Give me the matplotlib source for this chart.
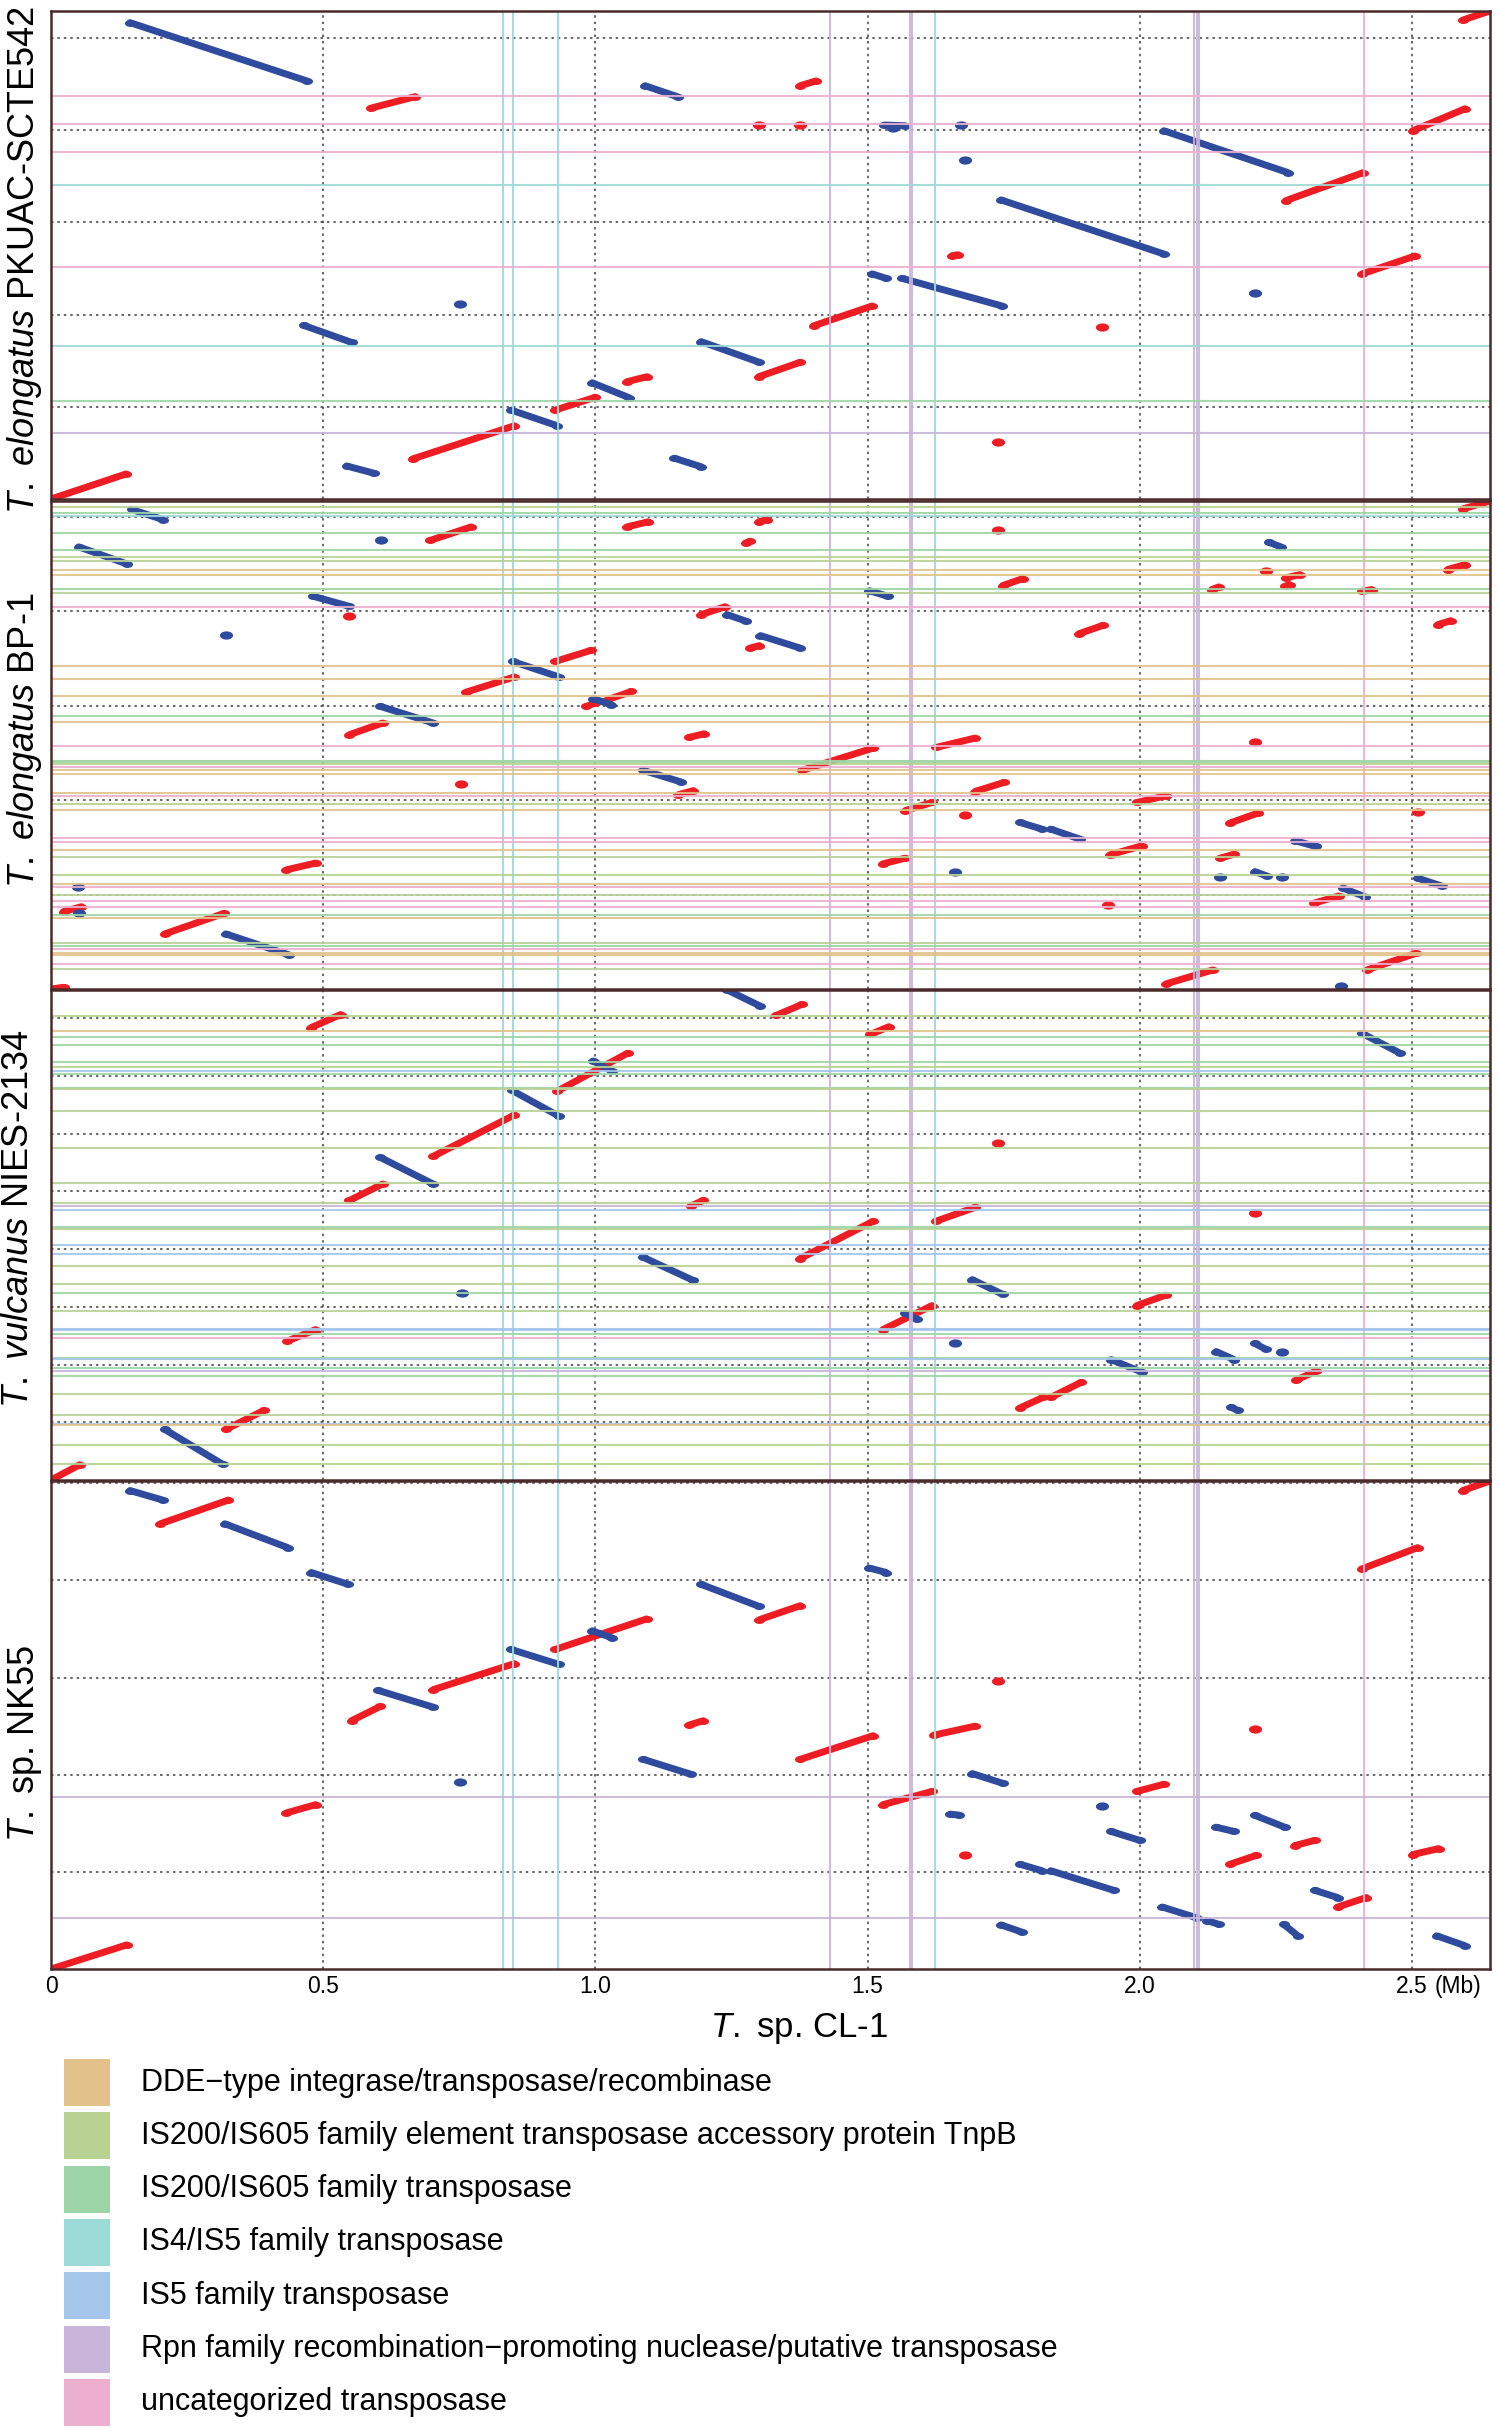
import matplotlib.pyplot as plt
import matplotlib.patches as mpatches
from matplotlib.path import Path
from matplotlib.transforms import Affine2D
import numpy as np

plt.rcParams['font.family'] = ['Liberation Sans', 'DejaVu Sans']
plt.rcParams['mathtext.fontset'] = 'custom'
plt.rcParams['mathtext.rm'] = 'Liberation Sans'
plt.rcParams['mathtext.it'] = 'Liberation Sans:italic'

# transposase categories (legend order)
CATEGORIES = [
    "DDE\u2212type integrase/transposase/recombinase",
    "IS200/IS605 family element transposase accessory protein TnpB",
    "IS200/IS605 family transposase",
    "IS4/IS5 family transposase",
    "IS5 family transposase",
    "Rpn family recombination\u2212promoting nuclease/putative transposase",
    "uncategorized transposase",
]
CAT_COLORS = ["#E2C28A", "#B8D294", "#9ED5A6", "#9CDAD8", "#A4C6EA", "#C9B5DA", "#ECAFD0"]
FWD_COLOR = "#EE1D23"
REV_COLOR = "#2F4B9D"

# reference genome T. sp. CL-1 (x axis, Mb)
X_LEN = 2.643
X_TICKS = [0, 0.5, 1.0, 1.5, 2.0, 2.5]
X_TICK_LABELS = ["0", "0.5", "1.0", "1.5", "2.0", "2.5"]

# transposases on CL-1: position (Mb), category index
V_LINES = [(0.831, 3), (0.848, 3), (0.931, 3), (1.430, 5), (1.578, 5), (1.582, 5),
           (1.624, 3), (2.100, 5), (2.104, 5), (2.108, 5), (2.412, 6)]

# ---- panel 1: T. elongatus PKUAC-SCTE542
P1_LABEL = r"$\mathit{T.\ elongatus}$ PKUAC-SCTE542"
P1_LEN, P1_STEP = 2.645, 0.5
P1_HLINES = [(2.183, 6), (2.034, 6), (1.882, 6), (1.704, 3), (1.259, 6), (0.831, 3),
             (0.533, 2), (0.359, 5)]
P1_FWD = [(0.000, 0.138, 0.000, 0.136), (0.587, 0.669, 2.118, 2.181), (0.664, 0.851, 0.217, 0.397),
          (0.926, 0.999, 0.482, 0.551), (1.058, 1.095, 0.636, 0.663), (1.300, 1.376, 0.663, 0.741),
          (1.376, 1.405, 2.240, 2.266), (1.401, 1.508, 0.939, 1.046), (1.655, 1.666, 1.319, 1.324),
          (2.268, 2.410, 1.617, 1.769), (2.408, 2.505, 1.220, 1.317), (2.501, 2.597, 1.996, 2.115),
          (2.593, 2.643, 2.596, 2.645)]
P1_FWD_DOTS = [(1.300, 2.027), (1.376, 2.027), (1.930, 0.934), (1.739, 0.307)]
P1_REV = [(0.145, 0.470, 2.582, 2.266), (1.091, 1.152, 2.240, 2.179), (0.464, 0.552, 0.941, 0.849),
          (0.845, 0.930, 0.482, 0.397), (0.994, 1.062, 0.630, 0.549), (1.194, 1.301, 0.853, 0.741),
          (1.145, 1.194, 0.221, 0.175), (0.543, 0.594, 0.179, 0.139), (1.530, 1.569, 2.027, 2.023),
          (1.745, 2.044, 1.621, 1.328), (1.508, 1.534, 1.220, 1.196), (1.563, 1.747, 1.196, 1.046),
          (2.044, 2.272, 1.996, 1.769)]
P1_REV_DOTS = [(0.752, 1.055), (1.672, 2.027), (1.678, 1.837), (2.211, 1.118), (1.547, 2.009)]

# ---- panel 2: T. elongatus BP-1
P2_LABEL = r"$\mathit{T.\ elongatus}$ BP-1"
P2_LEN, P2_STEP = 2.585, 0.5
P2_HLINES = [(2.554, 1), (2.519, 2), (2.504, 3), (2.416, 2), (2.324, 2), (2.287, 1), (2.269, 1),
             (2.222, 0), (2.193, 0), (2.119, 2), (2.096, 1), (2.024, 6), (1.713, 0), (1.642, 0),
             (1.552, 0), (1.444, 2), (1.412, 0), (1.288, 6), (1.207, 2), (1.200, 2), (1.193, 1),
             (1.176, 6), (1.158, 0), (1.140, 0), (1.039, 0), (1.022, 6), (0.981, 1), (0.949, 0),
             (0.799, 6), (0.779, 6), (0.737, 0), (0.701, 1), (0.606, 1), (0.555, 0), (0.539, 6),
             (0.500, 1), (0.465, 6), (0.433, 6), (0.394, 2), (0.376, 0), (0.245, 1), (0.228, 2),
             (0.212, 6), (0.192, 0), (0.179, 0), (0.131, 6), (0.104, 1)]
P2_FWD = [(0.697, 0.772, 2.377, 2.448), (1.058, 1.097, 2.448, 2.475), (1.276, 1.284, 2.363, 2.372),
          (1.300, 1.315, 2.475, 2.487), (1.194, 1.238, 1.983, 2.025), (0.926, 0.992, 1.735, 1.794),
          (0.763, 0.851, 1.573, 1.653), (0.983, 1.000, 1.497, 1.515), (1.022, 1.066, 1.532, 1.576),
          (0.548, 0.609, 1.347, 1.409), (1.172, 1.200, 1.333, 1.352), (1.152, 1.180, 1.029, 1.051),
          (0.432, 0.486, 0.631, 0.667), (0.023, 0.056, 0.410, 0.436), (0.209, 0.318, 0.292, 0.401),
          (0.000, 0.023, 0.000, 0.009), (2.593, 2.643, 2.543, 2.585), (1.748, 1.785, 2.137, 2.174),
          (1.284, 1.301, 1.806, 1.819), (1.888, 1.932, 1.882, 1.926), (2.547, 2.571, 1.930, 1.951),
          (2.132, 2.145, 2.116, 2.130), (2.266, 2.275, 2.133, 2.142), (2.268, 2.294, 2.178, 2.195),
          (2.408, 2.426, 2.107, 2.116), (2.565, 2.597, 2.222, 2.248), (1.379, 1.510, 1.158, 1.276),
          (1.626, 1.697, 1.280, 1.329), (1.697, 1.750, 1.046, 1.094), (1.569, 1.618, 0.945, 0.988),
          (1.994, 2.047, 0.988, 1.023), (2.165, 2.217, 0.879, 0.932), (1.528, 1.569, 0.663, 0.693),
          (1.945, 2.003, 0.711, 0.758), (2.147, 2.173, 0.693, 0.714), (2.319, 2.365, 0.454, 0.493),
          (2.417, 2.507, 0.101, 0.189), (2.048, 2.134, 0.027, 0.101)]
P2_FWD_DOTS = [(0.548, 1.978), (0.753, 1.087), (1.739, 2.432), (2.231, 2.213), (1.678, 0.923),
               (2.510, 0.935), (2.211, 1.308), (1.941, 0.445)]
P2_REV = [(0.148, 0.205, 2.540, 2.487), (0.051, 0.139, 2.342, 2.252), (0.482, 0.548, 2.080, 2.027),
          (0.848, 0.933, 1.735, 1.653), (0.605, 0.702, 1.497, 1.409), (0.996, 1.029, 1.538, 1.506),
          (1.088, 1.158, 1.158, 1.096), (0.321, 0.438, 0.292, 0.180), (1.242, 1.277, 1.983, 1.948),
          (1.303, 1.376, 1.872, 1.806), (2.237, 2.259, 2.366, 2.342), (1.503, 1.537, 2.110, 2.080),
          (1.780, 1.820, 0.882, 0.847), (1.836, 1.890, 0.847, 0.794), (2.284, 2.323, 0.786, 0.755),
          (2.211, 2.233, 0.622, 0.599), (2.510, 2.554, 0.587, 0.546), (2.373, 2.413, 0.534, 0.489)]
P2_REV_DOTS = [(0.607, 2.377), (0.321, 1.873), (0.050, 0.539), (0.051, 0.405), (1.660, 0.622),
               (2.147, 0.592), (2.261, 0.595), (2.369, 0.016)]

# ---- panel 3: T. vulcanus NIES-2134
P3_LABEL = r"$\mathit{T.\ vulcanus}$ NIES-2134"
P3_LEN, P3_STEP = 1.697, 0.2
P3_HLINES = [(1.607, 1), (1.554, 0), (1.533, 2), (1.508, 2), (1.449, 2), (1.431, 1), (1.418, 4),
             (1.405, 2), (1.359, 2), (1.353, 1), (1.279, 1), (1.151, 1), (1.028, 1), (0.961, 1),
             (0.949, 5), (0.935, 4), (0.877, 2), (0.870, 1), (0.813, 4), (0.782, 4), (0.742, 1),
             (0.678, 1), (0.649, 2), (0.586, 1), (0.524, 4), (0.519, 4), (0.505, 2), (0.493, 6),
             (0.424, 2), (0.418, 4), (0.389, 2), (0.376, 5), (0.361, 2), (0.297, 1), (0.224, 1),
             (0.193, 4), (0.191, 0), (0.121, 1), (0.055, 1)]
P3_FWD = [(0.478, 0.532, 1.567, 1.612), (0.930, 1.059, 1.347, 1.478), (0.702, 0.851, 1.121, 1.264),
          (0.548, 0.609, 0.968, 1.025), (1.176, 1.198, 0.950, 0.968), (0.434, 0.486, 0.481, 0.521),
          (0.321, 0.391, 0.175, 0.241), (0.000, 0.053, 0.000, 0.053), (1.332, 1.379, 1.609, 1.647),
          (1.505, 1.539, 1.543, 1.570), (1.376, 1.510, 0.767, 0.896), (1.625, 1.697, 0.896, 0.944),
          (1.528, 1.618, 0.521, 0.604), (1.994, 2.047, 0.604, 0.640), (1.780, 1.822, 0.250, 0.286),
          (1.836, 1.892, 0.286, 0.338), (2.286, 2.323, 0.345, 0.377)]
P3_FWD_DOTS = [(1.739, 1.167), (2.211, 0.926)]
P3_REV = [(0.847, 0.933, 1.349, 1.260), (0.996, 1.031, 1.451, 1.415), (0.605, 0.702, 1.117, 1.025),
          (1.088, 1.180, 0.771, 0.691), (0.209, 0.315, 0.175, 0.055), (1.242, 1.303, 1.697, 1.641),
          (2.408, 2.478, 1.547, 1.478), (1.692, 1.748, 0.694, 0.643), (1.569, 1.591, 0.577, 0.556),
          (1.947, 2.003, 0.417, 0.374), (2.140, 2.173, 0.445, 0.417), (2.211, 2.231, 0.473, 0.453),
          (2.167, 2.180, 0.252, 0.241)]
P3_REV_DOTS = [(0.754, 0.649), (1.660, 0.473), (2.261, 0.445)]

# ---- panel 4: T. sp. NK55
P4_LABEL = r"$\mathit{T.}$ sp. NK55"
P4_LEN, P4_STEP = 2.512, 0.5
P4_HLINES = [(0.883, 5), (0.263, 5)]
P4_FWD = [(0.201, 0.326, 2.292, 2.414), (0.552, 0.605, 1.278, 1.352), (0.702, 0.851, 1.438, 1.572),
          (0.926, 1.094, 1.645, 1.802), (1.172, 1.198, 1.256, 1.278), (0.432, 0.486, 0.803, 0.846),
          (0.000, 0.139, 0.000, 0.124), (1.301, 1.376, 1.798, 1.870), (1.376, 1.510, 1.079, 1.201),
          (1.622, 1.697, 1.204, 1.250), (1.528, 1.618, 0.846, 0.914), (1.994, 2.044, 0.914, 0.951),
          (2.165, 2.214, 0.539, 0.585), (2.284, 2.321, 0.635, 0.662), (2.363, 2.416, 0.319, 0.368),
          (2.501, 2.549, 0.589, 0.620), (2.407, 2.510, 2.059, 2.169), (2.593, 2.643, 2.463, 2.512)]
P4_FWD_DOTS = [(1.739, 1.485), (1.678, 0.585), (2.211, 1.236)]
P4_REV = [(0.145, 0.205, 2.463, 2.414), (0.319, 0.435, 2.292, 2.169), (0.478, 0.546, 2.041, 1.980),
          (0.601, 0.702, 1.434, 1.348), (0.845, 0.933, 1.645, 1.568), (0.994, 1.031, 1.741, 1.704),
          (1.088, 1.176, 1.079, 1.002), (1.194, 1.301, 1.980, 1.866), (1.503, 1.534, 2.064, 2.041),
          (1.692, 1.748, 1.006, 0.956), (1.652, 1.668, 0.797, 0.792), (1.947, 2.000, 0.708, 0.662),
          (1.780, 1.820, 0.539, 0.506), (1.836, 1.952, 0.506, 0.405), (1.745, 1.783, 0.227, 0.190),
          (2.041, 2.105, 0.319, 0.263), (2.123, 2.145, 0.249, 0.230), (2.140, 2.173, 0.730, 0.708),
          (2.211, 2.266, 0.791, 0.730), (2.264, 2.290, 0.230, 0.171), (2.321, 2.363, 0.405, 0.368),
          (2.545, 2.597, 0.171, 0.120)]
P4_REV_DOTS = [(0.752, 0.962), (1.930, 0.837)]

PANELS = [
    dict(label=P1_LABEL, length=P1_LEN, step=P1_STEP, hlines=P1_HLINES, fwd=P1_FWD,
         fwd_dots=P1_FWD_DOTS, rev=P1_REV, rev_dots=P1_REV_DOTS),
    dict(label=P2_LABEL, length=P2_LEN, step=P2_STEP, hlines=P2_HLINES, fwd=P2_FWD,
         fwd_dots=P2_FWD_DOTS, rev=P2_REV, rev_dots=P2_REV_DOTS),
    dict(label=P3_LABEL, length=P3_LEN, step=P3_STEP, hlines=P3_HLINES, fwd=P3_FWD,
         fwd_dots=P3_FWD_DOTS, rev=P3_REV, rev_dots=P3_REV_DOTS),
    dict(label=P4_LABEL, length=P4_LEN, step=P4_STEP, hlines=P4_HLINES, fwd=P4_FWD,
         fwd_dots=P4_FWD_DOTS, rev=P4_REV, rev_dots=P4_REV_DOTS),
]

# layout in pixels of the 1500 x 2429 canvas
W, H = 1500, 2429
AX_LEFT, AX_RIGHT = 51, 1490
PANEL_PX = [(11, 499), (501, 989), (990, 1480), (1481, 1969)]
LABEL_POS = [(-0.0051, 0.490), (-0.0051, 0.509), (-0.0104, 0.534), (-0.0051, 0.463)]

GRID_KW = dict(color="#3c3c3c", lw=1.1, ls=(0, (1.6, 2.6)), zorder=1)
SEG_LW = 5.0
# dots in the original are slightly wider than tall
DOT = Path.unit_circle().transformed(Affine2D().scale(1.6, 1.0))
DOT_MS = 8.0


def draw_segments(ax, segs, dots, color):
    for x0, x1, y0, y1 in segs:
        ax.plot([x0, x1], [y0, y1], color=color, lw=SEG_LW, solid_capstyle="round",
                marker=DOT, ms=DOT_MS, mec="none", zorder=2)
    if dots:
        dx, dy = zip(*dots)
        ax.plot(dx, dy, ls="none", marker=DOT, ms=DOT_MS + 1.5, color=color, mec="none", zorder=2)


fig = plt.figure(figsize=(W / 100, H / 100), dpi=100)

axes = []
for i, p in enumerate(PANELS):
    top, bot = PANEL_PX[i]
    ax = fig.add_axes([AX_LEFT / W, 1 - bot / H, (AX_RIGHT - AX_LEFT) / W, (bot - top) / H])
    axes.append(ax)
    ax.set_xlim(0, X_LEN)
    ax.set_ylim(0, p["length"])

    # dotted grid
    for gx in X_TICKS[1:]:
        ax.axvline(gx, **GRID_KW)
    for gy in np.arange(p["step"], p["length"], p["step"]):
        ax.axhline(gy, **GRID_KW)

    # alignment blocks: red = same strand, blue = inverted
    draw_segments(ax, p["fwd"], p["fwd_dots"], FWD_COLOR)
    draw_segments(ax, p["rev"], p["rev_dots"], REV_COLOR)

    # transposase positions
    for vx, c in V_LINES:
        ax.axvline(vx, color=CAT_COLORS[c], lw=1.5, alpha=0.9, zorder=3)
    for hy, c in p["hlines"]:
        ax.axhline(hy, color=CAT_COLORS[c], lw=1.5, alpha=0.9, zorder=3)

    for s in ax.spines.values():
        s.set_color("#4a2a2a")
        s.set_linewidth(1.8)
        s.set_zorder(4)
    ax.set_yticks([])
    ax.set_ylabel(p["label"], fontsize=26)
    ax.yaxis.set_label_coords(*LABEL_POS[i])
    if i < 3:
        ax.set_xticks([])

ax = axes[-1]
ax.set_xticks(X_TICKS)
ax.set_xticklabels(X_TICK_LABELS, fontsize=16.5)
ax.tick_params(axis="x", length=0, pad=4)
ax.annotate("(Mb)", xy=(2.5, 0), xycoords=("data", "axes fraction"), xytext=(16.5, -4),
            textcoords="offset points", ha="left", va="top", fontsize=16.5)

fig.text(799 / W, 1 - 2028 / H, r"$\mathit{T.}$ sp. CL-1", ha="center", va="center", fontsize=25)

# legend, laid out in pixel coordinates
leg = fig.add_axes([0, 0, 1, 1], zorder=-1)
leg.set_xlim(0, W)
leg.set_ylim(H, 0)
leg.axis("off")
LEG_TOP, LEG_ROW, SW_W, SW_H = 2059, 53.3, 46, 47
for k, (name, col) in enumerate(zip(CATEGORIES, CAT_COLORS)):
    y = LEG_TOP + k * LEG_ROW
    leg.add_patch(mpatches.Rectangle((64, y), SW_W, SW_H, facecolor=col, edgecolor="none"))
    leg.text(141, y + SW_H / 2, name, fontsize=22, ha="left", va="center")

fig.savefig("out.png", dpi=100)
